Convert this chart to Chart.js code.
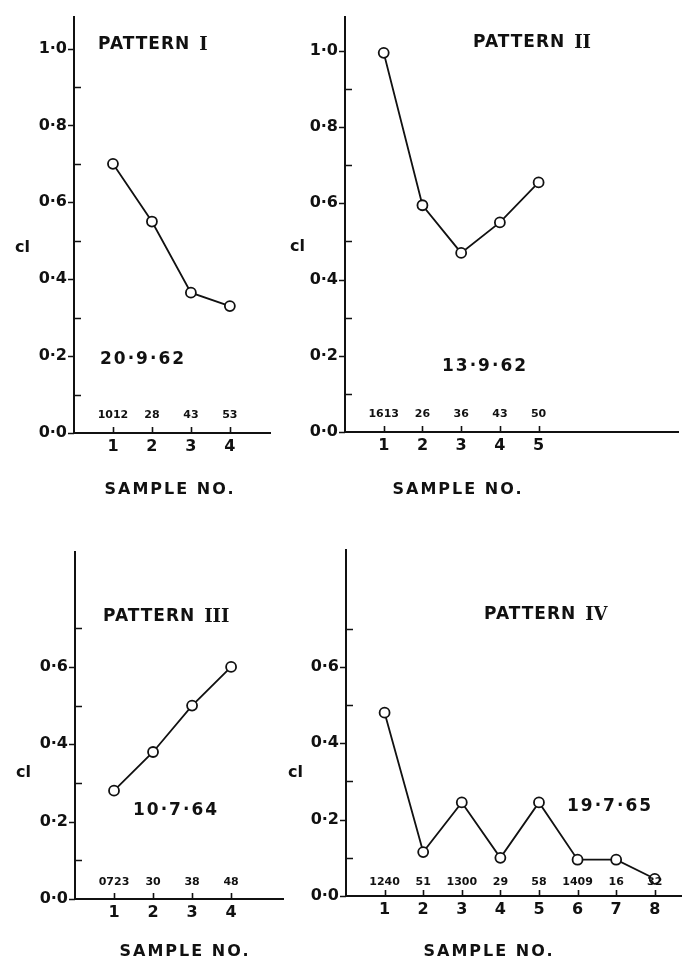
<!DOCTYPE html>
<html>
<head>
<meta charset="utf-8">
<script src="https://cdn.jsdelivr.net/npm/chart.js@4.4.0/dist/chart.umd.min.js"></script>
<style>
  html, body { margin: 0; padding: 0; background: #fff; }
  #page { position: relative; width: 683px; height: 959px; overflow: hidden; }
  canvas { position: absolute; }
</style>
</head>
<body>
<div id="page"></div>
<script>
// sample numbers, cl values and the code printed above each sample
const samples1 = [1, 2, 3, 4];
const cl1 = [0.70, 0.55, 0.365, 0.33];
const codes1 = ["1012", "28", "43", "53"];

const samples2 = [1, 2, 3, 4, 5];
const cl2 = [0.995, 0.595, 0.47, 0.55, 0.655];
const codes2 = ["1613", "26", "36", "43", "50"];

const samples3 = [1, 2, 3, 4];
const cl3 = [0.28, 0.38, 0.50, 0.60];
const codes3 = ["0723", "30", "38", "48"];

const samples4 = [1, 2, 3, 4, 5, 6, 7, 8];
const cl4 = [0.48, 0.115, 0.245, 0.10, 0.245, 0.095, 0.095, 0.045];
const codes4 = ["1240", "51", "1300", "29", "58", "1409", "16", "32"];

// tick values
const yMajorTop = [0, 0.2, 0.4, 0.6, 0.8, 1.0];
const yMinorTop = [0.1, 0.3, 0.5, 0.7, 0.9];
const yMajorBottom = [0, 0.2, 0.4, 0.6];
const yMinorBottom = [0.1, 0.3, 0.5, 0.7];

const patternWords = ["PATTERN", "PATTERN", "PATTERN", "PATTERN"];
const patternNumerals = ["I", "II", "III", "IV"];
const dates = ["20·9·62", "13·9·62", "10·7·64", "19·7·65"];

const INK = "#111";
const SANS = "'DejaVu Sans', sans-serif";

// Panel layout (page pixels)
const panels = [
    {
        samples: samples1, values: cl1, codes: codes1, yMajor: yMajorTop, yMinor: yMinorTop,
        canvas: { left: 0, top: 0, width: 300, height: 500 },
        area: { left: 74, top: 15, right: 270, bottom: 433 },
        xMax: 5.03, yMax: 1.083, codeLift: 18,
        title: { x: 98, y: 45 }, date: { x: 100, y: 360 }, yLabel: { x: 15, y: 248 }, xTitle: { x: 170, y: 490 }
    },
    {
        samples: samples2, values: cl2, codes: codes2, yMajor: yMajorTop, yMinor: yMinorTop,
        canvas: { left: 280, top: 0, width: 403, height: 500 },
        area: { left: 345, top: 12, right: 678, bottom: 432 },
        xMax: 8.6, yMax: 1.09, codeLift: 18,
        title: { x: 473, y: 43 }, date: { x: 442, y: 367 }, yLabel: { x: 290, y: 247 }, xTitle: { x: 458, y: 490 }
    },
    {
        samples: samples3, values: cl3, codes: codes3, yMajor: yMajorBottom, yMinor: yMinorBottom,
        canvas: { left: 0, top: 500, width: 300, height: 459 },
        area: { left: 75, top: 552, right: 283, bottom: 899 },
        xMax: 5.33, yMax: 0.897, codeLift: 17,
        title: { x: 103, y: 617 }, date: { x: 133, y: 811 }, yLabel: { x: 16, y: 773 }, xTitle: { x: 185, y: 952 }
    },
    {
        samples: samples4, values: cl4, codes: codes4, yMajor: yMajorBottom, yMinor: yMinorBottom,
        canvas: { left: 280, top: 500, width: 403, height: 459 },
        area: { left: 346, top: 550, right: 681, bottom: 896 },
        xMax: 8.68, yMax: 0.906, codeLift: 14,
        title: { x: 484, y: 615 }, date: { x: 567, y: 807 }, yLabel: { x: 288, y: 773 }, xTitle: { x: 489, y: 952 }
    }
];

// Draw tick marks, codes and labels
const makeDecor = (p, idx) => ({
    id: "decor" + idx,
    afterDraw(chart) {
        const ctx = chart.ctx;
        const xs = chart.scales.x;
        const ys = chart.scales.y;
        const a = chart.chartArea;
        const ox = p.canvas.left, oy = p.canvas.top;

        ctx.save();
        ctx.strokeStyle = INK;
        ctx.lineWidth = 1.6;
        ctx.beginPath();
        p.yMajor.forEach(v => {
            const y = Math.round(ys.getPixelForValue(v)) + 0.5;
            ctx.moveTo(a.left - 6, y);
            ctx.lineTo(a.left, y);
        });
        p.yMinor.forEach(v => {
            const y = Math.round(ys.getPixelForValue(v)) + 0.5;
            ctx.moveTo(a.left, y);
            ctx.lineTo(a.left + 7, y);
        });
        p.samples.forEach(s => {
            const x = Math.round(xs.getPixelForValue(s)) + 0.5;
            ctx.moveTo(x, a.bottom);
            ctx.lineTo(x, a.bottom - 6);
        });
        ctx.stroke();

        ctx.fillStyle = INK;
        ctx.textBaseline = "middle";

        // sample codes above the axis
        ctx.font = "bold 11px " + SANS;
        ctx.textAlign = "center";
        p.codes.forEach((c, i) => {
            ctx.fillText(c, xs.getPixelForValue(p.samples[i]), a.bottom - p.codeLift);
        });

        // pattern title
        ctx.textAlign = "left";
        ctx.font = "bold 17px " + SANS;
        ctx.letterSpacing = "1px";
        const word = patternWords[idx] + " ";
        ctx.fillText(word, p.title.x - ox, p.title.y - oy);
        const wWidth = ctx.measureText(word).width;
        ctx.font = "bold 18px 'DejaVu Serif', serif";
        ctx.letterSpacing = "0px";
        ctx.fillText(patternNumerals[idx], p.title.x - ox + wWidth + 2, p.title.y - oy);

        // date
        ctx.font = "bold 17px " + SANS;
        ctx.letterSpacing = "2px";
        ctx.fillText(dates[idx], p.date.x - ox, p.date.y - oy);

        // y title
        ctx.letterSpacing = "0px";
        ctx.font = "bold 16px " + SANS;
        ctx.fillText("cl", p.yLabel.x - ox, p.yLabel.y - oy);

        // x title
        ctx.textAlign = "center";
        ctx.letterSpacing = "2px";
        ctx.fillText("SAMPLE NO.", p.xTitle.x - ox, p.xTitle.y - oy);
        ctx.restore();
    }
});

const fmt = v => v.toFixed(1).replace(".", "·");

panels.forEach((p, idx) => {
    const cv = document.createElement("canvas");
    cv.width = p.canvas.width;
    cv.height = p.canvas.height;
    cv.style.left = p.canvas.left + "px";
    cv.style.top = p.canvas.top + "px";
    document.getElementById("page").appendChild(cv);

    const yWidth = p.area.left - p.canvas.left;
    const xHeight = p.canvas.top + p.canvas.height - p.area.bottom;

    new Chart(cv.getContext("2d"), {
        type: "line",
        data: {
            datasets: [{
                data: p.samples.map((s, i) => ({ x: s, y: p.values[i] })),
                borderColor: INK,
                borderWidth: 1.8,
                pointRadius: 5,
                pointBorderWidth: 1.8,
                pointBorderColor: INK,
                pointBackgroundColor: "#fff",
                tension: 0
            }]
        },
        options: {
            responsive: false,
            animation: false,
            layout: {
                autoPadding: false,
                padding: {
                    left: 0,
                    top: p.area.top - p.canvas.top,
                    right: p.canvas.left + p.canvas.width - p.area.right,
                    bottom: 0
                }
            },
            plugins: {
                legend: { display: false },
                tooltip: { enabled: false }
            },
            scales: {
                x: {
                    type: "linear",
                    min: 0,
                    max: p.xMax,
                    afterBuildTicks: s => { s.ticks = p.samples.map(v => ({ value: v })); },
                    afterFit: s => { s.height = xHeight; },
                    grid: { display: false, drawTicks: false },
                    border: { display: true, color: INK, width: 2 },
                    ticks: {
                        color: INK,
                        padding: 4,
                        maxRotation: 0,
                        autoSkip: false,
                        font: { family: "DejaVu Sans", size: 16, weight: "bold" },
                        callback: v => String(v)
                    }
                },
                y: {
                    type: "linear",
                    min: 0,
                    max: p.yMax,
                    afterBuildTicks: s => { s.ticks = p.yMajor.map(v => ({ value: v })); },
                    afterFit: s => { s.width = yWidth; },
                    grid: { display: false, drawTicks: false },
                    border: { display: true, color: INK, width: 2 },
                    ticks: {
                        color: INK,
                        padding: 7,
                        autoSkip: false,
                        font: { family: "DejaVu Sans", size: 16, weight: "bold" },
                        callback: v => fmt(v)
                    }
                }
            }
        },
        plugins: [makeDecor(p, idx)]
    });
});
</script>
</body>
</html>
